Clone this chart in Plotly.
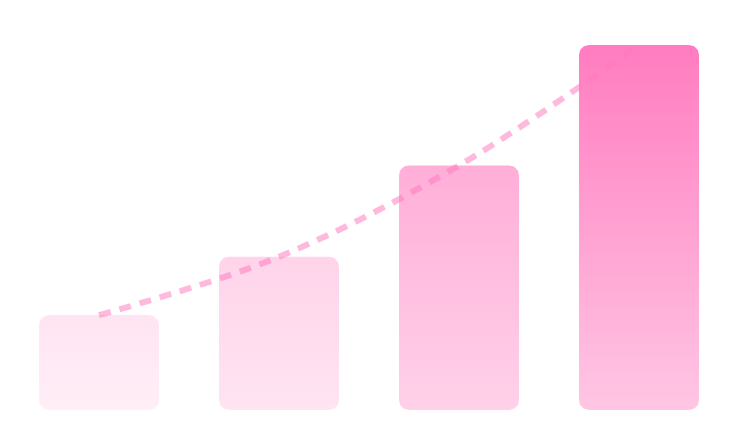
import numpy as np
import plotly.graph_objects as go

categories = ["A", "B", "C", "D"]
values = [26, 42, 67, 100]
top_alpha = [0.2, 0.32, 0.6, 0.97]
bottom_alpha = [0.12, 0.2, 0.34, 0.42]

W, H = 730, 447
# the page body adds 8px on the left and top
M = dict(l=1, r=9, t=2, b=45)
PX_PER_UNIT_Y = 3.65
BAR_HALF = 1 / 3
RADIUS = 10  # px

plot_w = W - M["l"] - M["r"]
plot_h = H - M["t"] - M["b"]
x_range = [-0.5, len(categories) - 0.5]
y_range = [0, plot_h / PX_PER_UNIT_Y]
px_x = plot_w / (x_range[1] - x_range[0])
px_y = PX_PER_UNIT_Y


def rounded_bar(xc, h, n=12):
    rx = RADIUS / px_x
    ry = RADIUS / px_y
    x0, x1 = xc - BAR_HALF, xc + BAR_HALF
    corners = [
        (x1 - rx, ry, -np.pi / 2, 0),          # bottom right
        (x1 - rx, h - ry, 0, np.pi / 2),        # top right
        (x0 + rx, h - ry, np.pi / 2, np.pi),    # top left
        (x0 + rx, ry, np.pi, 1.5 * np.pi),      # bottom left
    ]
    xs, ys = [], []
    for cx, cy, a0, a1 in corners:
        t = np.linspace(a0, a1, n)
        xs += list(cx + rx * np.cos(t))
        ys += list(cy + ry * np.sin(t))
    xs.append(xs[0])
    ys.append(ys[0])
    return xs, ys


fig = go.Figure()

# dashed trend line goes first so the bars sit over it
fig.add_trace(go.Scatter(
    x=list(range(len(categories))), y=values,
    mode="lines",
    line=dict(color="rgba(255,120,190,0.52)", width=6, dash="12px,9px", shape="spline"),
    hoverinfo="skip", showlegend=False,
))

for i, v in enumerate(values):
    xs, ys = rounded_bar(i, v)
    fig.add_trace(go.Scatter(
        x=xs, y=ys, mode="lines", fill="toself",
        line=dict(width=0, color="rgba(0,0,0,0)"),
        fillgradient=dict(
            type="vertical", start=0, stop=v,
            colorscale=[[0, f"rgba(255,120,190,{bottom_alpha[i]})"],
                        [1, f"rgba(255,120,190,{top_alpha[i]})"]],
        ),
        hoverinfo="skip", showlegend=False,
    ))

fig.update_layout(
    width=W, height=H,
    margin=M,
    paper_bgcolor="white", plot_bgcolor="white",
    xaxis=dict(range=x_range, visible=False, fixedrange=True),
    yaxis=dict(range=y_range, visible=False, fixedrange=True),
)

fig.write_html("out.html", config={"displayModeBar": False})
